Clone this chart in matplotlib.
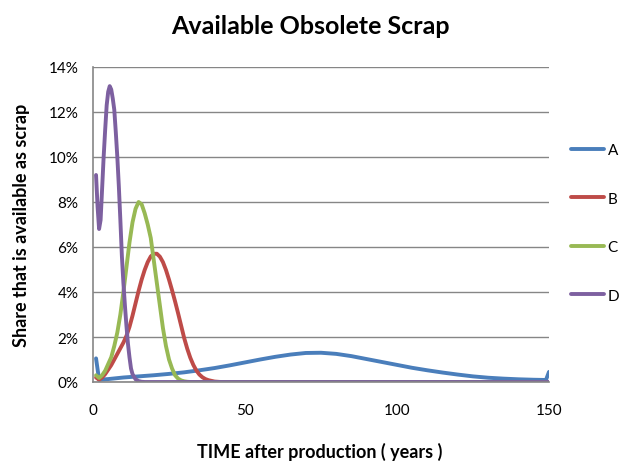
import matplotlib
matplotlib.use("Agg")
import matplotlib.pyplot as plt
from matplotlib.ticker import FuncFormatter

plt.rcParams["font.family"] = ["Lato", "DejaVu Sans"]

# share of production available as obsolete scrap, by years after production
years_a = [1, 2, 5, 10, 15, 20, 25, 30, 35, 40, 45, 50, 55, 60, 65, 70, 75, 80,
           85, 90, 95, 100, 105, 110, 115, 120, 125, 130, 135, 140, 145, 149, 150]
share_a = [1.05, 0.1, 0.13, 0.2, 0.25, 0.3, 0.36, 0.43, 0.52, 0.62, 0.74, 0.87,
           1.0, 1.12, 1.22, 1.29, 1.3, 1.25, 1.15, 1.02, 0.89, 0.76, 0.63, 0.52,
           0.42, 0.33, 0.25, 0.19, 0.15, 0.12, 0.1, 0.09, 0.45]

years_b = list(range(1, 43)) + [150]
share_b = [0.2, 0.1, 0.2, 0.35, 0.55, 0.75, 1.0, 1.25, 1.5, 1.75, 2.05, 2.45,
           2.95, 3.5, 4.05, 4.55, 4.98, 5.33, 5.58, 5.7, 5.7, 5.57, 5.33, 4.98,
           4.55, 4.08, 3.58, 3.05, 2.5, 1.95, 1.48, 1.08, 0.76, 0.51, 0.33,
           0.21, 0.13, 0.08, 0.05, 0.02, 0.01, 0.0, 0.0]

years_c = list(range(1, 33)) + [150]
share_c = [0.3, 0.18, 0.3, 0.5, 0.8, 1.1, 1.6, 2.2, 3.0, 4.0, 5.1, 6.2, 7.1,
           7.7, 8.0, 7.9, 7.5, 7.0, 6.4, 5.4, 4.4, 3.4, 2.4, 1.6, 1.0, 0.6,
           0.3, 0.15, 0.07, 0.03, 0.01, 0.0, 0.0]

years_d = [1, 1.5, 2, 2.5, 3, 3.5, 4, 4.5, 5, 5.5, 6, 6.5, 7, 7.5, 8, 8.5, 9,
           9.5, 10, 10.5, 11, 11.5, 12, 12.5, 13, 14, 15, 16, 17, 150]
share_d = [9.2, 7.8, 6.8, 7.2, 8.6, 10.0, 11.2, 12.3, 12.9, 13.15, 13.0, 12.6,
           12.1, 11.1, 10.0, 8.7, 7.2, 5.6, 4.4, 3.4, 2.5, 1.7, 1.1, 0.6, 0.35,
           0.12, 0.04, 0.01, 0.0, 0.0]

series = [("A", years_a, share_a, "#4A7EBB"),
          ("B", years_b, share_b, "#BE4B48"),
          ("C", years_c, share_c, "#98B954"),
          ("D", years_d, share_d, "#7D60A0")]

fig = plt.figure(figsize=(6.19, 4.64), dpi=100)
ax = fig.add_axes([93 / 619, 1 - 383 / 464, 456 / 619, 315 / 464])

for name, x, y, col in series:
    ax.plot(x, y, color=col, lw=2.8, label=name, solid_capstyle="round",
            solid_joinstyle="round")

ax.set_xlim(0, 150)
ax.set_ylim(0, 14)
ax.set_xticks([0, 50, 100, 150])
ax.set_yticks(range(0, 15, 2))
ax.yaxis.set_major_formatter(FuncFormatter(lambda v, p: f"{v:.0f}%"))
ax.tick_params(length=0, labelsize=11, colors="black")
ax.tick_params(axis="x", pad=15)
ax.tick_params(axis="y", pad=10.5)

ax.grid(axis="y", color="#868686", lw=1)
ax.set_axisbelow(True)
for s in ["top", "right"]:
    ax.spines[s].set_visible(False)
for s in ["left", "bottom"]:
    ax.spines[s].set_color("#868686")
    ax.spines[s].set_linewidth(1.2)

fig.text(310 / 619, 1 - 26 / 464, "Available Obsolete Scrap", ha="center",
         va="center", fontsize=18, fontweight="bold")
fig.text(320 / 619, 1 - 452 / 464, "TIME after production ( years )",
         ha="center", va="center", fontsize=13, fontweight="bold")
fig.text(22 / 619, 1 - 225 / 464, "Share that is available as scrap",
         ha="center", va="center", rotation=90, fontsize=13, fontweight="bold")

fig.legend(loc="center left", bbox_to_anchor=(571 / 619, 1 - 224 / 464),
           frameon=False, fontsize=11, handlelength=2.15, handletextpad=0.25,
           labelspacing=2.25, borderpad=0, borderaxespad=0)

fig.savefig("out.png", dpi=100)
